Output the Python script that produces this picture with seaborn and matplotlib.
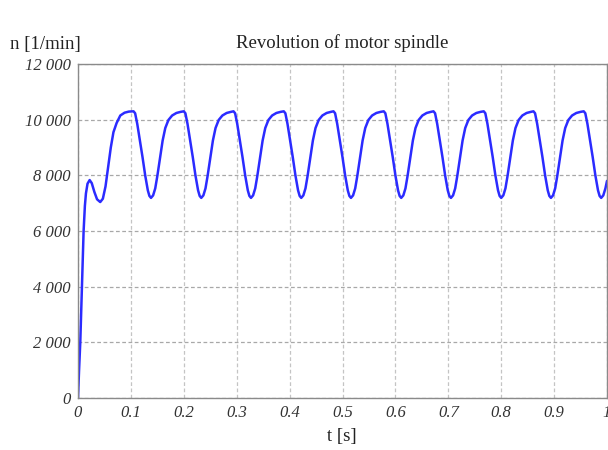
import numpy as np
import pandas as pd
import matplotlib

matplotlib.use("Agg")
import matplotlib.pyplot as plt
import seaborn as sns
from matplotlib.ticker import FixedLocator, MultipleLocator

# spindle speed trace, t in s, n in 1/min
t_values = [
    0.000, 0.002, 0.0043, 0.0075, 0.0106, 0.013, 0.015, 0.018, 0.022, 0.026,
    0.031, 0.036, 0.042, 0.047, 0.052, 0.057, 0.062, 0.067, 0.073, 0.080,
    0.088, 0.096, 0.105,
    0.108, 0.112, 0.117, 0.122, 0.127, 0.132, 0.135, 0.138, 0.142, 0.146,
    0.150, 0.155, 0.160, 0.165, 0.171, 0.178, 0.186, 0.194, 0.200,
    0.203, 0.207, 0.212, 0.217, 0.222, 0.227, 0.230, 0.233, 0.237, 0.241,
    0.245, 0.250, 0.255, 0.260, 0.266, 0.273, 0.281, 0.289, 0.294,
    0.297, 0.301, 0.306, 0.311, 0.316, 0.321, 0.324, 0.327, 0.331, 0.335,
    0.339, 0.344, 0.349, 0.354, 0.360, 0.367, 0.375, 0.383, 0.389,
    0.392, 0.396, 0.401, 0.406, 0.411, 0.416, 0.419, 0.422, 0.426, 0.430,
    0.434, 0.439, 0.444, 0.449, 0.455, 0.462, 0.470, 0.478, 0.483,
    0.486, 0.490, 0.495, 0.500, 0.505, 0.510, 0.513, 0.516, 0.520, 0.524,
    0.528, 0.533, 0.538, 0.543, 0.549, 0.556, 0.564, 0.572, 0.578,
    0.581, 0.585, 0.590, 0.595, 0.600, 0.605, 0.608, 0.611, 0.615, 0.619,
    0.623, 0.628, 0.633, 0.638, 0.644, 0.651, 0.659, 0.667, 0.672,
    0.675, 0.679, 0.684, 0.689, 0.694, 0.699, 0.702, 0.705, 0.709, 0.713,
    0.717, 0.722, 0.727, 0.732, 0.738, 0.745, 0.753, 0.761, 0.767,
    0.770, 0.774, 0.779, 0.784, 0.789, 0.794, 0.797, 0.800, 0.804, 0.808,
    0.812, 0.817, 0.822, 0.827, 0.833, 0.840, 0.848, 0.856, 0.861,
    0.864, 0.868, 0.873, 0.878, 0.883, 0.888, 0.891, 0.894, 0.898, 0.902,
    0.906, 0.911, 0.916, 0.921, 0.927, 0.934, 0.942, 0.950, 0.956,
    0.959, 0.963, 0.968, 0.973, 0.978, 0.983, 0.986, 0.989, 0.993, 0.997,
    1.000,
]
n_values = [
    0, 1000, 2000, 4000, 6000, 6900, 7350, 7700, 7830, 7720,
    7400, 7140, 7040, 7160, 7600, 8300, 9000, 9550, 9880, 10150,
    10250, 10290, 10300,
    10230, 9850, 9250, 8650, 8000, 7460, 7260, 7190, 7280, 7530,
    7980, 8620, 9250, 9700, 9990, 10150, 10240, 10280, 10300,
    10230, 9850, 9250, 8650, 8000, 7460, 7260, 7190, 7280, 7530,
    7980, 8620, 9250, 9700, 9990, 10150, 10240, 10280, 10300,
    10230, 9850, 9250, 8650, 8000, 7460, 7260, 7190, 7280, 7530,
    7980, 8620, 9250, 9700, 9990, 10150, 10240, 10280, 10300,
    10230, 9850, 9250, 8650, 8000, 7460, 7260, 7190, 7280, 7530,
    7980, 8620, 9250, 9700, 9990, 10150, 10240, 10280, 10300,
    10230, 9850, 9250, 8650, 8000, 7460, 7260, 7190, 7280, 7530,
    7980, 8620, 9250, 9700, 9990, 10150, 10240, 10280, 10300,
    10230, 9850, 9250, 8650, 8000, 7460, 7260, 7190, 7280, 7530,
    7980, 8620, 9250, 9700, 9990, 10150, 10240, 10280, 10300,
    10230, 9850, 9250, 8650, 8000, 7460, 7260, 7190, 7280, 7530,
    7980, 8620, 9250, 9700, 9990, 10150, 10240, 10280, 10300,
    10230, 9850, 9250, 8650, 8000, 7460, 7260, 7190, 7280, 7530,
    7980, 8620, 9250, 9700, 9990, 10150, 10240, 10280, 10300,
    10230, 9850, 9250, 8650, 8000, 7460, 7260, 7190, 7280, 7530,
    7980, 8620, 9250, 9700, 9990, 10150, 10240, 10280, 10300,
    10230, 9850, 9250, 8650, 8000, 7460, 7260, 7190, 7280, 7530,
    7800,
]

x_ticks = [0, 0.1, 0.2, 0.3, 0.4, 0.5, 0.6, 0.7, 0.8, 0.9, 1.0]
x_tick_labels = ["0", "0.1", "0.2", "0.3", "0.4", "0.5", "0.6", "0.7", "0.8", "0.9", "1"]
y_ticks = [0, 2000, 4000, 6000, 8000, 10000, 12000]
y_tick_labels = ["0", "2 000", "4 000", "6 000", "8 000", "10 000", "12 000"]

sns.set_style("white")
plt.rcParams["font.family"] = ["Liberation Serif", "DejaVu Serif"]

df = pd.DataFrame({"t": t_values, "n": n_values})

fig = plt.figure(figsize=(6.08, 4.5), dpi=100)
ax = fig.add_axes([78 / 608, 1 - 398 / 450, 529 / 608, 334 / 450])

sns.lineplot(data=df, x="t", y="n", ax=ax, color="#2b2bff", linewidth=1.8,
             sort=False, estimator=None)

ax.set_xlim(0, 1)
ax.set_ylim(0, 12000)

ax.xaxis.set_major_locator(FixedLocator(x_ticks))
ax.set_xticklabels(x_tick_labels)
ax.yaxis.set_major_locator(FixedLocator(y_ticks))
ax.set_yticklabels(y_tick_labels)
ax.xaxis.set_minor_locator(MultipleLocator(0.05))
ax.yaxis.set_minor_locator(MultipleLocator(1000))

ax.tick_params(axis="both", which="major", length=0, labelsize=12,
               labelcolor="#333333", pad=5)
ax.tick_params(axis="x", which="minor", direction="in", length=2.5,
               color="#888888", width=0.8)
ax.tick_params(axis="y", which="minor", direction="out", length=2.5,
               color="#888888", width=0.8)
for lab in ax.get_xticklabels() + ax.get_yticklabels():
    lab.set_fontstyle("italic")

ax.grid(axis="x", which="major", color="#c4c4c4", linestyle=(0, (3, 2)), linewidth=0.9)
ax.grid(axis="y", which="major", color="#a8a8a8", linestyle=(0, (3, 2)), linewidth=0.9)
ax.set_axisbelow(True)

for side in ["left", "bottom", "top", "right"]:
    ax.spines[side].set_color("#8a8a8a")
    ax.spines[side].set_linewidth(1.0)

ax.set_xlabel("")
ax.set_ylabel("")

fig.text(342 / 608, 1 - 43 / 450, "Revolution of motor spindle", ha="center",
         va="center", fontsize=13.5, color="#222222")
fig.text(10 / 608, 1 - 45 / 450, "n [1/min]", ha="left", va="center",
         fontsize=13.5, color="#222222")
fig.text(342 / 608, 1 - 437 / 450, "t [s]", ha="center", va="center",
         fontsize=13.5, color="#222222")

plt.savefig("out.png", dpi=100)
plt.close()
